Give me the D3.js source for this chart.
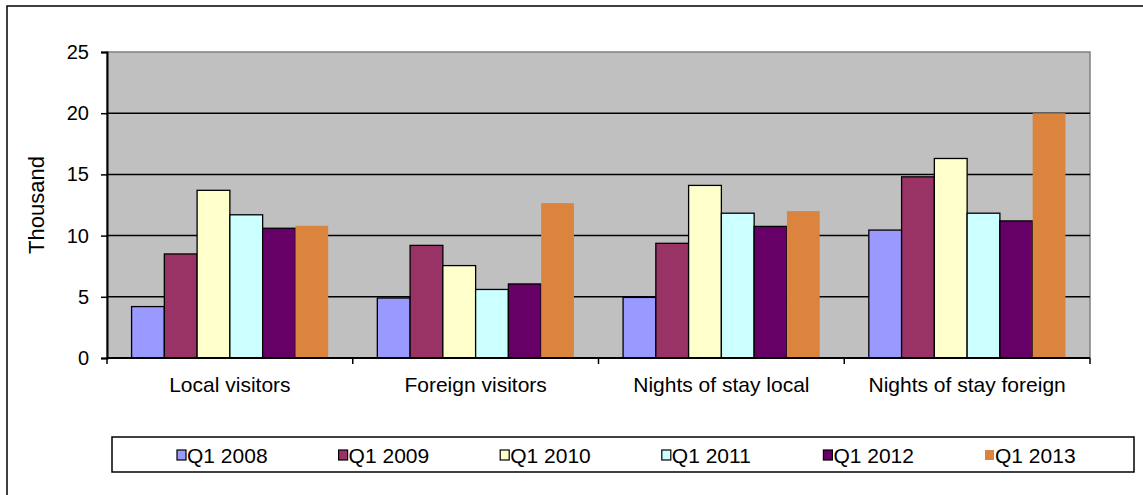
<!DOCTYPE html>
<html>
<head>
<meta charset="utf-8">
<script src="https://cdn.jsdelivr.net/npm/d3@7"></script>
<style>
  body { margin: 0; background: #fff; }
  svg { font-family: "Liberation Sans", Arial, sans-serif; }
</style>
</head>
<body>
<svg width="1143" height="495"></svg>
<script>
// categories and series
const categories = ["Local visitors", "Foreign visitors", "Nights of stay local", "Nights of stay foreign"];
const seriesNames = ["Q1 2008", "Q1 2009", "Q1 2010", "Q1 2011", "Q1 2012", "Q1 2013"];
const seriesColors = ["#9999FF", "#993366", "#FFFFCC", "#CCFFFF", "#660066", "#DB843E"];
// values in thousand, one array per category (in order of seriesNames)
const localVisitors = [4.2, 8.5, 13.7, 11.7, 10.6, 10.8];
const foreignVisitors = [4.9, 9.2, 7.55, 5.6, 6.05, 12.65];
const nightsLocal = [4.95, 9.37, 14.1, 11.83, 10.75, 12.0];
const nightsForeign = [10.45, 14.8, 16.3, 11.83, 11.2, 20.0];
const yTicks = [0, 5, 10, 15, 20, 25];

const values = [localVisitors, foreignVisitors, nightsLocal, nightsForeign];

const svg = d3.select("svg");

// outer frame
svg.append("rect")
    .attr("x", 7).attr("y", 6)
    .attr("width", 1150).attr("height", 500)
    .attr("fill", "#fff")
    .attr("stroke", "#000")
    .attr("stroke-width", 1.5);

const area = { left: 107, right: 1090, top: 52, bottom: 358 };

const x0 = d3.scaleBand()
    .domain(categories)
    .range([area.left, area.right]);

const x1 = d3.scaleBand()
    .domain(seriesNames)
    .range([0, x0.bandwidth()])
    .paddingInner(0)
    .paddingOuter(0.75);

const y = d3.scaleLinear()
    .domain([0, 25])
    .range([area.bottom, area.top]);

// plot background
svg.append("rect")
    .attr("x", area.left).attr("y", area.top)
    .attr("width", area.right - area.left)
    .attr("height", area.bottom - area.top)
    .attr("fill", "#C0C0C0")
    .attr("stroke", "#808080")
    .attr("stroke-width", 1.5);

// gridlines
svg.append("g")
    .selectAll("line")
    .data(yTicks.filter(d => d > 0 && d < 25))
    .join("line")
    .attr("x1", area.left).attr("x2", area.right)
    .attr("y1", d => y(d)).attr("y2", d => y(d))
    .attr("stroke", "#000")
    .attr("stroke-width", 1.5);

// bars
const groups = svg.append("g")
    .selectAll("g")
    .data(categories)
    .join("g")
    .attr("transform", d => `translate(${x0(d)},0)`);

groups.selectAll("rect")
    .data((d, i) => values[i].map((v, j) => ({ name: seriesNames[j], value: v, color: seriesColors[j] })))
    .join("rect")
    .attr("x", d => x1(d.name))
    .attr("y", d => y(d.value))
    .attr("width", x1.bandwidth())
    .attr("height", d => y(0) - y(d.value))
    .attr("fill", d => d.color)
    .attr("stroke", d => d.name === "Q1 2013" ? "none" : "#000")
    .attr("stroke-width", 1.3);

// y axis
const axisY = d3.axisLeft(y).tickValues(yTicks).tickSize(6).tickPadding(12);
const gy = svg.append("g")
    .attr("transform", `translate(${area.left},0)`)
    .call(axisY);
gy.select(".domain").attr("stroke", "#000").attr("stroke-width", 2);
gy.selectAll(".tick line").attr("stroke", "#000").attr("stroke-width", 1.5);
gy.selectAll(".tick text").attr("font-size", 20).attr("fill", "#000")
    .attr("font-family", "Liberation Sans, Arial, sans-serif");

// x axis
const gx = svg.append("g")
    .attr("transform", `translate(0,${area.bottom})`);
gx.append("line")
    .attr("x1", area.left).attr("x2", area.right)
    .attr("stroke", "#000").attr("stroke-width", 2);
gx.selectAll("line.tick")
    .data(categories.map(c => x0(c)).concat([area.right]))
    .join("line")
    .attr("class", "tick")
    .attr("x1", d => d).attr("x2", d => d)
    .attr("y1", 0).attr("y2", 6)
    .attr("stroke", "#000").attr("stroke-width", 1.5);
gx.selectAll("text")
    .data(categories)
    .join("text")
    .attr("x", d => x0(d) + x0.bandwidth() / 2)
    .attr("y", 34)
    .attr("text-anchor", "middle")
    .attr("font-size", 21)
    .text(d => d);

// y title
svg.append("text")
    .attr("transform", `translate(44,${(area.top + area.bottom) / 2}) rotate(-90)`)
    .attr("text-anchor", "middle")
    .attr("font-size", 22)
    .text("Thousand");

// legend
const legend = svg.append("g");
legend.append("rect")
    .attr("x", 112).attr("y", 437)
    .attr("width", 1022).attr("height", 35)
    .attr("fill", "#fff")
    .attr("stroke", "#000")
    .attr("stroke-width", 1.5);

const legX = d3.scalePoint()
    .domain(seriesNames)
    .range([177, 985]);

const items = legend.selectAll("g.item")
    .data(seriesNames)
    .join("g")
    .attr("class", "item")
    .attr("transform", d => `translate(${legX(d)},455)`);

items.append("rect")
    .attr("x", 0).attr("y", -5)
    .attr("width", 9).attr("height", 10)
    .attr("fill", (d, i) => seriesColors[i])
    .attr("stroke", d => d === "Q1 2013" ? "none" : "#000")
    .attr("stroke-width", 1.2);

items.append("text")
    .attr("x", 10)
    .attr("y", 8)
    .attr("font-size", 21)
    .text(d => d);
</script>
</body>
</html>
